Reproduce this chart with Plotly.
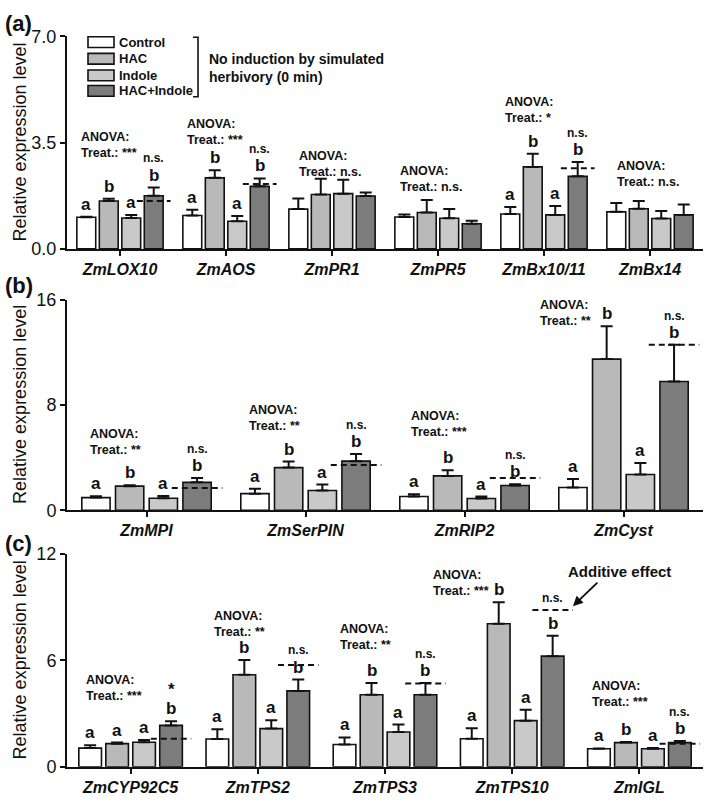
import plotly.graph_objects as go

W, H = 709, 804
FONT = "Liberation Sans, Arial, Helvetica, sans-serif"
INK = "#111111"

treatments = ["Control", "HAC", "Indole", "HAC+Indole"]
bar_colors = ["#ffffff", "#b9b9b9", "#c9c9c9", "#7c7c7c"]

# ---------------- Panel (a) ----------------
genes_a = ["ZmLOX10", "ZmAOS", "ZmPR1", "ZmPR5", "ZmBx10/11", "ZmBx14"]
control_a = [1.04, 1.10, 1.31, 1.05, 1.15, 1.22]
hac_a = [1.58, 2.34, 1.79, 1.20, 2.70, 1.32]
indole_a = [1.02, 0.91, 1.82, 1.01, 1.12, 1.00]
hacind_a = [1.75, 2.06, 1.74, 0.83, 2.39, 1.12]
se_control_a = [0.02, 0.19, 0.35, 0.08, 0.23, 0.29]
se_hac_a = [0.07, 0.25, 0.52, 0.41, 0.43, 0.26]
se_indole_a = [0.10, 0.17, 0.46, 0.30, 0.29, 0.25]
se_hacind_a = [0.27, 0.26, 0.12, 0.10, 0.47, 0.34]
additive_a = [1.58, 2.14, None, None, 2.66, None]
letters_a = ["abab", "abab", "", "", "abab", ""]
anova_a = ["***", "***", "n.s.", "n.s.", "*", "n.s."]
additivity_a = ["n.s.", "n.s.", "", "", "n.s.", ""]

# ---------------- Panel (b) ----------------
genes_b = ["ZmMPI", "ZmSerPIN", "ZmRIP2", "ZmCyst"]
control_b = [0.96, 1.26, 1.04, 1.73]
hac_b = [1.83, 3.24, 2.61, 11.48]
indole_b = [0.91, 1.50, 0.89, 2.72]
hacind_b = [2.12, 3.73, 1.88, 9.78]
se_control_b = [0.10, 0.37, 0.17, 0.64]
se_hac_b = [0.07, 0.46, 0.43, 2.50]
se_indole_b = [0.18, 0.45, 0.15, 0.86]
se_hacind_b = [0.33, 0.54, 0.09, 2.79]
additive_b = [1.68, 3.43, 2.44, 12.57]
letters_b = ["abab", "abab", "abab", "abab"]
anova_b = ["**", "**", "***", "**"]
additivity_b = ["n.s.", "n.s.", "n.s.", "n.s."]

# ---------------- Panel (c) ----------------
genes_c = ["ZmCYP92C5", "ZmTPS2", "ZmTPS3", "ZmTPS10", "ZmIGL"]
control_c = [1.05, 1.56, 1.25, 1.58, 1.01]
hac_c = [1.30, 5.19, 4.06, 8.07, 1.36]
indole_c = [1.38, 2.15, 1.96, 2.60, 1.01]
hacind_c = [2.33, 4.28, 4.06, 6.24, 1.36]
se_control_c = [0.16, 0.55, 0.40, 0.59, 0.02]
se_hac_c = [0.06, 0.83, 0.66, 1.21, 0.04]
se_indole_c = [0.12, 0.47, 0.42, 0.61, 0.05]
se_hacind_c = [0.24, 0.64, 0.66, 1.15, 0.09]
additive_c = [1.58, 5.74, 4.70, 8.84, 1.30]
letters_c = ["aaab", "abab", "abab", "abab", "abab"]
anova_c = ["***", "**", "**", "***", "***"]
additivity_c = ["*", "n.s.", "n.s.", "n.s.", "n.s."]

# ---------------- layout / placement (not data) ----------------
S = 0.212      # spacing between bar centres within a group (category units)
BW = 0.178     # bar width (category units)
EXT = 0.07     # dashed line overhang
X_DOM = [67 / W, 703 / W]

panels = [
    dict(key="a", genes=genes_a, means=[control_a, hac_a, indole_a, hacind_a],
         se=[se_control_a, se_hac_a, se_indole_a, se_hacind_a], add=additive_a,
         letters=letters_a, anova=anova_a, addtxt=additivity_a,
         ytop=7.0, yticks=[0, 3.5, 7.0], yticktext=["0.0", "3.5", "7.0"],
         px=(245, 27), label_y=14,
         anova_pos=[(-0.39, 3.69), (-0.39, 4.11), (-0.33, 3.05), (-0.38, 2.57), (-0.39, 4.85), (-0.33, 2.73)]),
    dict(key="b", genes=genes_b, means=[control_b, hac_b, indole_b, hacind_b],
         se=[se_control_b, se_hac_b, se_indole_b, se_hacind_b], add=additive_b,
         letters=letters_b, anova=anova_b, addtxt=additivity_b,
         ytop=16, yticks=[0, 8, 16], yticktext=["0", "8", "16"],
         px=(513, 297), label_y=283,
         anova_pos=[(-0.37, 5.78), (-0.37, 7.63), (-0.35, 7.19), (-0.54, 15.56)]),
    dict(key="c", genes=genes_c, means=[control_c, hac_c, indole_c, hacind_c],
         se=[se_control_c, se_hac_c, se_indole_c, se_hacind_c], add=additive_c,
         letters=letters_c, anova=anova_c, addtxt=additivity_c,
         ytop=12, yticks=[0, 6, 12], yticktext=["0", "6", "12"],
         px=(776, 558), label_y=547,
         anova_pos=[(-0.37, 4.90), (-0.36, 8.48), (-0.37, 7.76), (-0.64, 10.84), (-0.39, 4.57)]),
]


def pxx(x):
    return x / W


def pxy(y):
    return 1 - y / H


fig = go.Figure()
shapes = []
annotations = []

for pi, p in enumerate(panels):
    suffix = "" if pi == 0 else str(pi + 1)
    xa, ya = "x" + suffix, "y" + suffix
    n = len(p["genes"])
    ppu = (p["px"][0] - p["px"][1]) / p["ytop"]  # pixels per unit

    for k in range(4):
        xs = [i + (k - 1.5) * S for i in range(n)]
        fig.add_trace(go.Bar(
            x=xs, y=p["means"][k], width=BW, name=treatments[k],
            marker=dict(color=bar_colors[k], line=dict(color=INK, width=1.6)),
            error_y=dict(type="data", symmetric=False, array=p["se"][k],
                         arrayminus=[0] * n, width=6, thickness=2, color=INK),
            xaxis=xa, yaxis=ya, showlegend=False, hoverinfo="skip"))

    for i in range(n):
        tops = [p["means"][k][i] + p["se"][k][i] for k in range(4)]
        # significance letters
        if p["letters"][i]:
            for k in range(4):
                annotations.append(dict(
                    x=i + (k - 1.5) * S, y=tops[k], xref=xa, yref=ya,
                    text="<b>%s</b>" % p["letters"][i][k], showarrow=False,
                    xanchor="center", yanchor="bottom", yshift=1,
                    font=dict(family=FONT, size=17, color=INK)))
        # additive expectation dashed line
        xc = i + 1.5 * S
        if p["add"][i] is not None:
            shapes.append(dict(type="line", xref=xa, yref=ya,
                               x0=xc - BW / 2 - EXT, x1=xc + BW / 2 + EXT,
                               y0=p["add"][i], y1=p["add"][i],
                               line=dict(color=INK, width=2, dash="6px,4px")))
        # additivity test label
        if p["addtxt"][i]:
            star = p["addtxt"][i] == "*"
            ref = tops[3] + (36 if star else 30) / ppu
            if p["add"][i] is not None:
                ref = max(ref, p["add"][i] + 12 / ppu)
            annotations.append(dict(
                x=xc, y=ref, xref=xa, yref=ya,
                text="<b>%s</b>" % p["addtxt"][i], showarrow=False,
                xanchor="center", yanchor="middle", yshift=-3 if star else 0,
                font=dict(family=FONT, size=17 if star else 12, color=INK)))
        # ANOVA
        dx, yv = p["anova_pos"][i]
        annotations.append(dict(
            x=i + dx, y=yv, xref=xa, yref=ya,
            text="<b>ANOVA:<br>Treat.: %s</b>" % p["anova"][i],
            showarrow=False, xanchor="left", yanchor="top", yshift=9,
            align="left", font=dict(family=FONT, size=12.5, color=INK)))

    ydom = [pxy(p["px"][0]), pxy(p["px"][1])]
    fig.layout["xaxis" + suffix] = dict(
        domain=X_DOM, anchor=ya, range=[-0.5, n - 0.5],
        tickvals=list(range(n)),
        ticktext=["<b><i>%s</i></b>" % g for g in p["genes"]],
        ticks="outside", ticklen=5, tickwidth=2, tickcolor=INK,
        showline=True, linewidth=2, linecolor=INK, showgrid=False,
        zeroline=False, tickfont=dict(family=FONT, size=16, color=INK))
    fig.layout["yaxis" + suffix] = dict(
        domain=ydom, anchor=xa, range=[0, p["ytop"]],
        tickvals=p["yticks"], ticktext=p["yticktext"],
        ticks="outside", ticklen=5, tickwidth=2, tickcolor=INK,
        showline=True, linewidth=2, linecolor=INK, showgrid=False,
        zeroline=False, tickfont=dict(family=FONT, size=18, color=INK))

    # y title
    annotations.append(dict(
        x=pxx(20), y=(ydom[0] + ydom[1]) / 2, xref="paper", yref="paper",
        text="Relative expression level", textangle=-90, showarrow=False,
        xanchor="center", yanchor="middle",
        font=dict(family=FONT, size=18, color=INK)))
    # panel label
    annotations.append(dict(
        x=pxx(3), y=pxy(p["label_y"]), xref="paper", yref="paper",
        text="<b>(%s)</b>" % p["key"], showarrow=False, xanchor="left",
        yanchor="middle", font=dict(family=FONT, size=22, color=INK)))

    # "Additive effect" arrow in panel (c), pointing at the ZmTPS10 dashed line
    if p["key"] == "c":
        gi = genes_c.index("ZmTPS10")
        hx = gi + 1.5 * S + BW / 2 + EXT
        hy = additive_c[gi] + 4 / ppu
        annotations.append(dict(
            x=hx, y=hy, xref="x3", yref="y3", text="", showarrow=True,
            ax=26, ay=-25, arrowhead=2, arrowsize=1, arrowwidth=2,
            arrowcolor=INK))
        annotations.append(dict(
            x=hx, y=hy, xref="x3", yref="y3", text="<b>Additive effect</b>",
            showarrow=False, xanchor="center", yanchor="middle",
            xshift=47, yshift=35,
            font=dict(family=FONT, size=15, color=INK)))

# ---------------- custom legend ----------------
rows_y = [33, 50, 67, 83]
for k, t in enumerate(treatments):
    yc = rows_y[k]
    shapes.append(dict(type="rect", xref="paper", yref="paper",
                       x0=pxx(88), x1=pxx(114), y0=pxy(yc + 5.5), y1=pxy(yc - 5.5),
                       fillcolor=bar_colors[k], line=dict(color=INK, width=1.6)))
    annotations.append(dict(x=pxx(117), y=pxy(yc), xref="paper", yref="paper",
                            text="<b>%s</b>" % t, showarrow=False, xanchor="left",
                            yanchor="middle", font=dict(family=FONT, size=13, color=INK)))
shapes.append(dict(type="path", xref="paper", yref="paper",
                   path="M %f %f L %f %f L %f %f L %f %f" % (
                       pxx(193), pxy(28), pxx(198), pxy(28),
                       pxx(198), pxy(89), pxx(193), pxy(89)),
                   line=dict(color=INK, width=1.6)))
annotations.append(dict(x=pxx(207), y=pxy(59.5), xref="paper", yref="paper",
                        text="<b>No induction by simulated<br>herbivory (0 min)</b>",
                        showarrow=False, xanchor="left", yanchor="middle", align="left",
                        font=dict(family=FONT, size=14, color=INK)))

fig.update_layout(
    width=W, height=H, margin=dict(l=0, r=0, t=0, b=0),
    paper_bgcolor="white", plot_bgcolor="white",
    barmode="overlay", shapes=shapes, annotations=annotations,
    font=dict(family=FONT, color=INK), showlegend=False)

fig.write_html("out.html", config={"displayModeBar": False},
               post_script="document.body.style.margin='0';document.body.style.overflow='hidden';")
